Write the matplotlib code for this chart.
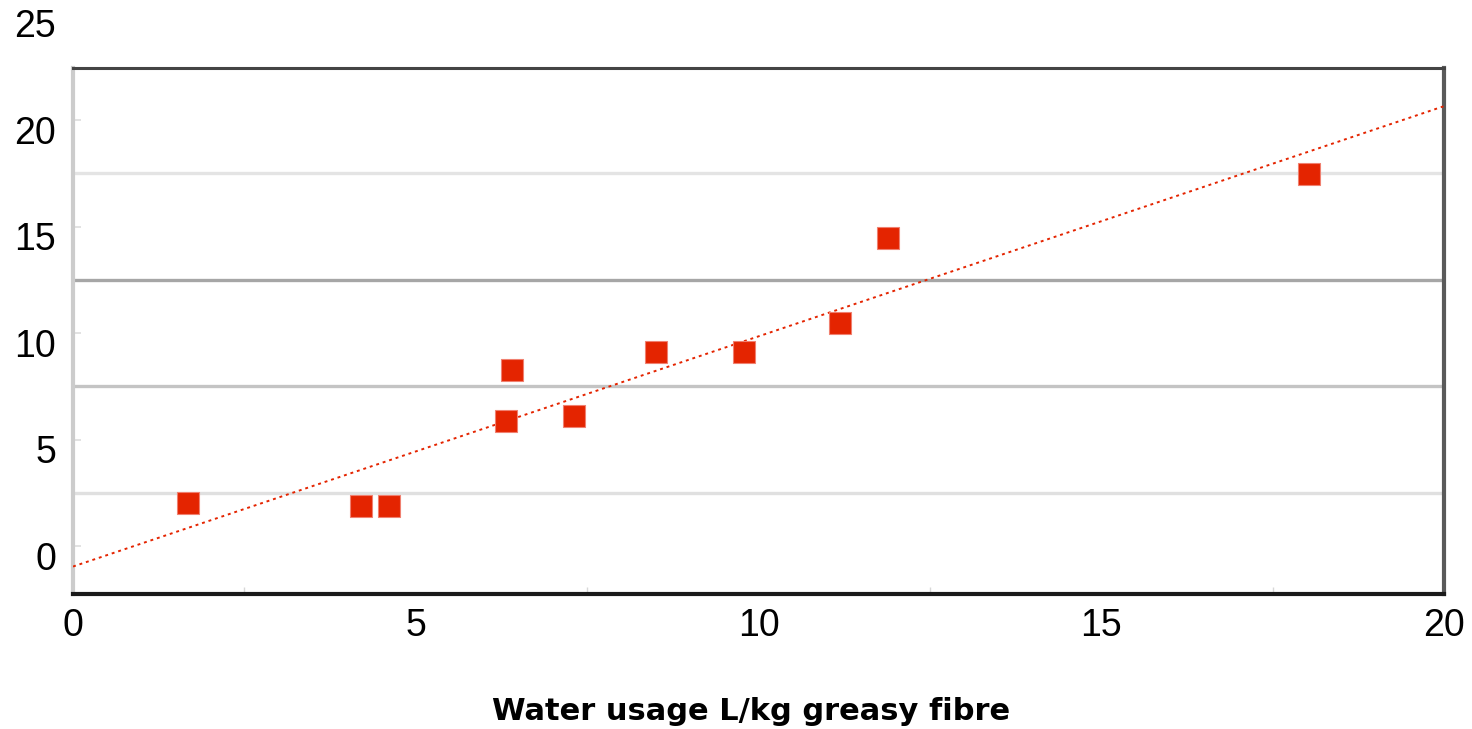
import numpy as np
import matplotlib
matplotlib.use("Agg")
import matplotlib.pyplot as plt
import matplotlib.transforms as mtransforms

plt.rcParams['font.family'] = ['Liberation Sans', 'DejaVu Sans']

# Water usage (L/kg greasy fibre) against the measured quantity
water_usage = [1.68, 4.20, 4.61, 6.31, 6.41, 7.31, 8.50, 9.79, 11.19, 11.89, 18.03]
measured = [2.02, 1.88, 1.88, 5.87, 8.26, 6.10, 9.10, 9.10, 10.47, 14.46, 17.46]

x_ticks = [0, 5, 10, 15, 20]
y_ticks = [0, 5, 10, 15, 20, 25]
x_label = "Water usage L/kg greasy fibre"

RED = "#e42400"

fig = plt.figure(figsize=(14.72, 7.29), dpi=100)
ax = fig.add_axes([0.0496, 0.1852, 0.9315, 0.7215])

# horizontal bands between the labelled values
band_lines = [(2.5, "#e0e0e0"), (7.5, "#c4c4c4"), (12.5, "#a6a6a6"), (17.5, "#e4e4e4")]
for yv, col in band_lines:
    ax.axhline(yv, color=col, lw=2.4, zorder=1)

# least-squares trend line through the points
slope, intercept = np.polyfit(water_usage, measured, 1)
xs = np.array([0, 20])
ax.plot(xs, slope * xs + intercept, color=RED, lw=1.4,
        linestyle=(0, (1.5, 2.0)), zorder=3)

ax.plot(water_usage, measured, linestyle="none", marker="s", markersize=16,
        color=RED, markeredgecolor="#f08070", markeredgewidth=0.8, zorder=4)

# axis frame
ax.spines['left'].set_color("#cccccc")
ax.spines['left'].set_linewidth(3)
ax.spines['top'].set_color("#444444")
ax.spines['top'].set_linewidth(2.2)
ax.spines['right'].set_color("#5a5a5a")
ax.spines['right'].set_linewidth(3)
ax.spines['bottom'].set_color("#1a1a1a")
ax.spines['bottom'].set_linewidth(3)

ax.set_xticks(x_ticks)
ax.set_xticklabels([str(v) for v in x_ticks], fontsize=27)
ax.set_xticks([2.5, 7.5, 12.5, 17.5], minor=True)
ax.tick_params(axis='x', which='major', length=0, pad=10)
ax.tick_params(axis='x', which='minor', direction='in', length=5,
               color="#d8d8d8", width=1)

ax.set_yticks([v for v in y_ticks if v <= 20])
ax.tick_params(axis='y', which='major', direction='in', length=6,
               color="#dddddd", width=1.2, labelleft=False)

ax.set_xlim(0, 20)
ax.set_ylim(-2.25, 22.44)

# y labels sit a little below their tick marks; the top one lies above the frame
label_tf = (mtransforms.blended_transform_factory(ax.transAxes, ax.transData)
            + mtransforms.ScaledTranslation(-12 / 72, -10 / 72, fig.dpi_scale_trans))
for v in y_ticks:
    ax.text(0, v, str(v), transform=label_tf, ha='right', va='center',
            fontsize=27, clip_on=False)

ax.set_xlabel(x_label, fontsize=22, fontweight='bold', family=['DejaVu Sans'],
              va='center')
ax.xaxis.set_label_coords(0.4945, -0.224)

fig.savefig("out.png", dpi=100, facecolor="white")
